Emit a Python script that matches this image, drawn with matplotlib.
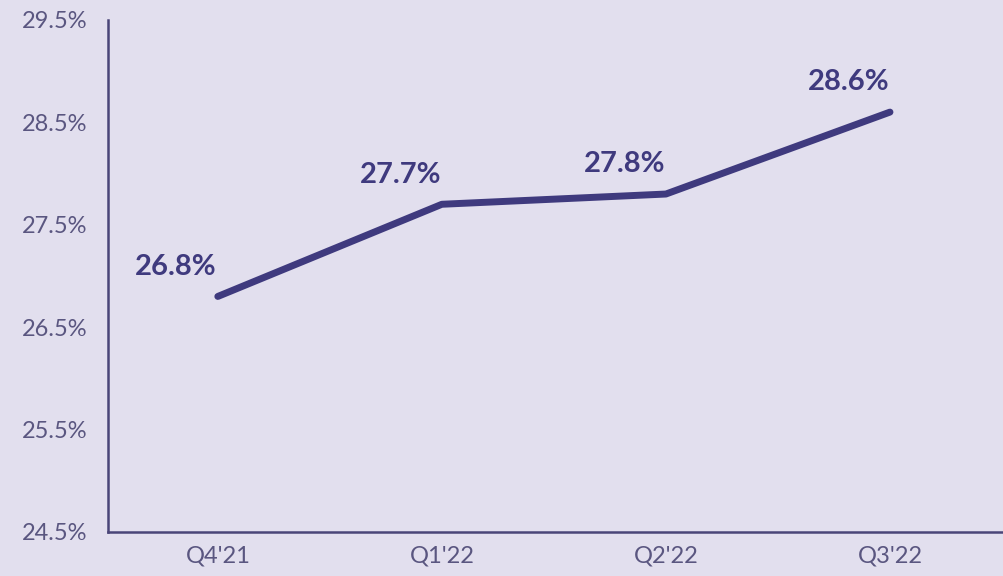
import matplotlib
matplotlib.use("Agg")
import matplotlib.pyplot as plt
from matplotlib.ticker import FuncFormatter

categories = ["Q4'21", "Q1'22", "Q2'22", "Q3'22"]
values = [26.8, 27.7, 27.8, 28.6]
yticks = [24.5, 25.5, 26.5, 27.5, 28.5, 29.5]

bg = "#E2DFEE"
line_c = "#3F3A7E"
tick_c = "#5A5680"

plt.rcParams['font.family'] = ['Lato', 'DejaVu Sans']

fig = plt.figure(figsize=(10.04, 5.76), dpi=100, facecolor=bg)
ax = fig.add_axes([0.1076, 0.0764, 0.8904, 0.889])
ax.set_facecolor(bg)

x = list(range(len(categories)))
ax.plot(x, values, color=line_c, lw=5, solid_capstyle='round', solid_joinstyle='round')
for xi, v in zip(x, values):
    ax.annotate(f"{v:.1f}%", (xi, v), xytext=(-30, 12), textcoords='offset points',
                ha='center', va='bottom', fontsize=21, fontweight='bold', color=line_c)

ax.set_xlim(-0.49, 3.5)
ax.set_ylim(24.5, 29.5)
ax.set_xticks(x)
ax.set_xticklabels(categories)
ax.set_yticks(yticks)
ax.yaxis.set_major_formatter(FuncFormatter(lambda v, p: f"{v:.1f}%"))
ax.tick_params(length=0, labelsize=17, colors=tick_c)
ax.tick_params(axis='y', pad=15)
ax.tick_params(axis='x', pad=10)
for s in ['top', 'right']:
    ax.spines[s].set_visible(False)
for s in ['left', 'bottom']:
    ax.spines[s].set_color("#4A4578")
    ax.spines[s].set_linewidth(1.8)

fig.savefig("out.png", dpi=100, facecolor=bg)
